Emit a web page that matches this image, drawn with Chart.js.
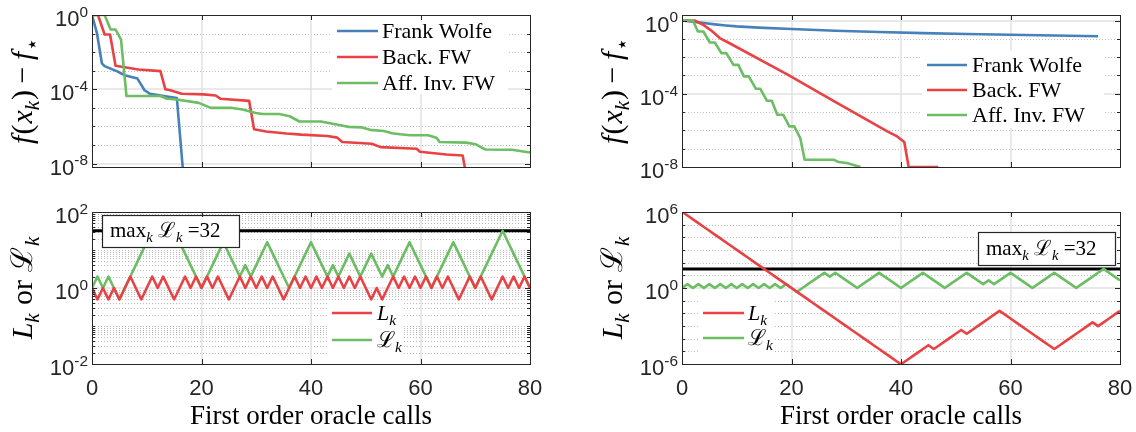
<!DOCTYPE html>
<html><head><meta charset="utf-8">
<script src="https://cdn.jsdelivr.net/npm/chart.js@4.4.1/dist/chart.umd.min.js"></script>
<style>
html,body{margin:0;padding:0;background:#fff;}
#wrap{position:relative;width:1136px;height:432px;overflow:hidden;background:#fff}
#wrap canvas{position:absolute;left:0;top:0}
</style></head>
<body><div id="wrap">
<canvas id="cTL" width="1136" height="432"></canvas>
<canvas id="cTR" width="1136" height="432"></canvas>
<canvas id="cBL" width="1136" height="432"></canvas>
<canvas id="cBR" width="1136" height="432"></canvas>
</div>
<script>
// ---------------- data ----------------
const oracleCalls = Array.from({length:81},(_,i)=>i);
const xTickVals = [0,20,40,60,80];
const topYTicks = [1e-8,1e-4,1];
const blYTicks = [1e-2,1,1e2];
const brYTicks = [1e-6,1,1e6];
const seriesNames = ['Frank Wolfe','Back. FW','Aff. Inv. FW'];

// top-left: f(x_k)-f*
const tlFwX = [0,0.9,1.8,2.3,4.5,6,8.3,9.6,10.6,13.1,15.5,16.8];
const tlFwY = [1,0.107,2.51e-3,1.78e-3,9.5e-4,5.75e-4,3.8e-4,8.9e-5,5.75e-5,4.37e-5,3.39e-5,1e-9];
const tlBackX = [0,1.1,2.3,3.3,4.3,8.5,12.5,13.4,14.3,16.4,20.4,22.6,23.5,28.7,29.6,31.8,35.5,38.2,43,44.8,45.7,51.1,52.7,59.3,59.9,64.7,67.7,68.6];
const tlBackY = [1,1,0.0891,0.0891,1.86e-3,1.17e-3,9.5e-4,1e-4,8.9e-5,5.75e-5,5.37e-5,4.68e-5,3.09e-5,2.4e-5,7.08e-7,5.37e-7,4.17e-7,3.63e-7,3.09e-7,2.51e-7,1.45e-7,1.17e-7,7.76e-8,6.31e-8,4.37e-8,3.09e-8,2.75e-8,1e-9];
const tlAffX = [0,2.3,3.4,4.3,5.3,6.3,12.5,13.7,15.5,19.5,21.7,25.6,27.5,29.9,31.2,34.2,36.1,37.9,41.8,44.2,45.4,46.9,49.3,50.8,53.3,54.8,56.3,58.1,61.4,62.9,63.5,68.3,70.1,71.9,76.7,80];
const tlAffY = [1,1,0.166,0.166,0.0468,4.37e-5,4.37e-5,3.09e-5,2.82e-5,1.86e-5,1e-5,1e-5,8.13e-6,5.37e-6,4.68e-6,4.68e-6,3.55e-6,1.86e-6,1.86e-6,1.35e-6,1.17e-6,9.55e-7,8.91e-7,6.61e-7,5.75e-7,4.37e-7,3.8e-7,3.39e-7,3.39e-7,2.51e-7,1.45e-7,1.35e-7,1.1e-7,5.75e-8,5.62e-8,3.98e-8];

// top-right
const trFwX = [0,2,4,6,8,10,14,20,28,36,44,52,60,68,76];
const trFwY = [1,0.871,0.724,0.617,0.537,0.479,0.407,0.347,0.275,0.234,0.204,0.182,0.166,0.151,0.138];
const trBackX = [0,2.3,3.9,5.4,6.9,8.7,19.3,28.3,37.5,39.3,40.6,41.4,46.8];
const trBackY = [1,1,0.575,0.275,0.11,0.0575,1.12e-3,3.16e-5,8.9e-7,4.68e-7,2.29e-7,1e-8,1e-8];
const trAffX = [0,2,2.9,3.9,5.1,6,7.2,8.1,9.4,10.3,11.3,12.2,13.5,14.3,15.5,16.4,17.4,18.5,19.6,20.5,21.6,22.4,27.7,28.6,30.1,32.6];
const trAffY = [1,1,0.251,0.251,0.0631,0.0631,0.0166,0.0166,3.8e-3,3.8e-3,8.9e-4,8.9e-4,1.86e-4,1.86e-4,4.17e-5,4.17e-5,7.08e-6,7.08e-6,1.66e-6,1.66e-6,3.8e-7,2.51e-8,2.51e-8,1.86e-8,1.66e-8,1e-8];

// bottom-left: L_k and script-L_k per oracle call
const blLk = [1,0.5,1,0.5,1,0.5,1,2,1,0.5, 1,2,1,2,1,0.5,1,2,1,2, 1,2,1,2,1,0.5,1,2,1,2, 1,2,1,2,1,0.5,1,2,1,2, 1,2,1,2,1,2,1,2,1,2, 1,0.5,1,0.5,1,2,1,2,1,2, 1,2,1,2,1,2,1,0.5,1,2, 1,2,1,0.5,1,2,1,2,1,2, 1];
const blCalLk = [1,2,1,2,1,0.5,1,2,4,8, 16,32,16,32,16,32,16,8,4,2, 1,2,4,8,16,8,4,2,4,2, 4,8,16,8,4,2,1,2,4,8, 16,8,4,2,4,2,4,8,4,2, 4,8,4,2,4,2,4,8,16,8, 4,2,1,2,4,8,16,8,4,2, 1,2,4,8,16,32,16,8,4,2, 1];

// bottom-right
const brLk = [1048576,524288,262144,131072,65536,32768,16384,8192,4096,2048,
 1024,512,256,128,64,32,16,8,4,2,
 1,0.5,0.25,0.125,0.0625,0.03125,0.015625,0.0078125,0.00390625,1.953e-3,
 9.766e-4,4.883e-4,2.441e-4,1.221e-4,6.104e-5,3.052e-5,1.526e-5,7.629e-6,3.815e-6,1.907e-6,
 9.537e-7,1.907e-6,3.815e-6,7.629e-6,1.526e-5,3.052e-5,1.526e-5,3.052e-5,6.104e-5,1.221e-4,
 2.441e-4,4.883e-4,2.441e-4,4.883e-4,9.766e-4,1.953e-3,3.906e-3,7.813e-3,0.015625,7.813e-3,
 3.906e-3,1.953e-3,9.766e-4,4.883e-4,2.441e-4,1.221e-4,6.104e-5,3.052e-5,1.526e-5,3.052e-5,
 6.104e-5,1.221e-4,2.441e-4,4.883e-4,9.766e-4,1.953e-3,9.766e-4,1.953e-3,3.906e-3,7.813e-3,
 0.015625];
const brCalLk = [1,2,1,2,1,2,1,2,1,2, 1,2,1,2,1,2,1,2,1,2, 1,0.5,1,2,4,8,16,8,16,8, 4,2,1,2,4,8,16,8,4,2, 1,2,4,8,16,8,4,2,1,2, 4,8,16,8,4,2,4,2,4,8, 16,8,4,2,1,2,4,8,16,8, 4,2,1,2,4,8,16,32,16,8, 4];

// ---------------- style ----------------
const COL = {fw:'rgb(72,129,185)', back:'rgb(232,66,69)', aff:'rgb(108,189,100)'};
const LW = 2.6;
const SERIF = '"Liberation Serif","DejaVu Serif",serif';
const SANS = '"Liberation Sans",Arial,sans-serif';
const W = 1136, H = 432;

function pts(xs, ys){ return xs.map((x,i)=>({x:x, y:ys[i]})); }
function ds(xs, ys, color, w){ return {data:pts(xs,ys), borderColor:color, borderWidth:w||LW, pointRadius:0, fill:false, tension:0}; }

// ------------- rich text helpers -------------
function fontOf(s, S, fam){ const sz=(s.sub||s.sup)?S*0.7:S; return (s.it?'italic ':'')+sz.toFixed(1)+'px '+(s.fam||fam); }
function richWidth(ctx, segs, S, fam){ let w=0; for(const s of segs){ctx.font=fontOf(s,S,fam); w+=ctx.measureText(s.t).width+(s.dx||0)*S;} return w; }
function drawRich(ctx, segs, x, y, S, fam, align){
  const w=richWidth(ctx,segs,S,fam);
  let cx = align==='center'? x-w/2 : (align==='right'? x-w : x);
  ctx.textAlign='left'; ctx.textBaseline='alphabetic';
  for(const s of segs){
    ctx.font=fontOf(s,S,fam);
    const dy = s.sub? 0.22*S : (s.sup? -0.42*S : 0);
    ctx.fillText(s.t, cx, y+dy);
    cx += ctx.measureText(s.t).width+(s.dx||0)*S;
  }
  return w;
}

const titleTop = [{t:'f',it:1,dx:0.04},{t:'(',dx:0.03},{t:'x',it:1},{t:'k',it:1,sub:1,dx:0.03},{t:')',dx:0.22},{t:'\u2212',dx:0.22},{t:'f',it:1,dx:0.02},{t:'\u22C6',sub:1}];
const titleBot = [{t:'L',it:1},{t:'k',it:1,sub:1,dx:0.28},{t:'or',dx:0.28},{t:'\u2112',dx:0.02},{t:'k',it:1,sub:1}];
const segLk = [{t:'L',it:1},{t:'k',it:1,sub:1}];
const segCal = [{t:'\u2112'},{t:'k',it:1,sub:1}];

// ------------- decoration plugin -------------
function deco(cfg){
  return {
    id:'deco',
    beforeDatasetsDraw(chart){
      const {ctx, chartArea:a, scales:{x,y}} = chart;
      ctx.save();
      ctx.strokeStyle='rgba(0,0,0,0.26)'; ctx.lineWidth=1; ctx.setLineDash([1,2]);
      for(const v of cfg.yMinor){ const py=Math.round(y.getPixelForValue(v))+0.5; ctx.beginPath(); ctx.moveTo(a.left,py); ctx.lineTo(a.right,py); ctx.stroke(); }
      ctx.setLineDash([]);
      ctx.strokeStyle='#e2e2e2'; ctx.lineWidth=1.5;
      for(const v of xTickVals){ if(v<=x.min||v>=x.max) continue; const px=Math.round(x.getPixelForValue(v)); ctx.beginPath(); ctx.moveTo(px,a.top); ctx.lineTo(px,a.bottom); ctx.stroke(); }
      for(const v of cfg.yTicks){ const py=Math.round(y.getPixelForValue(v)); if(py<=a.top+1||py>=a.bottom-1) continue; ctx.beginPath(); ctx.moveTo(a.left,py); ctx.lineTo(a.right,py); ctx.stroke(); }
      ctx.restore();
    },
    afterDatasetsDraw(chart){
      const {ctx} = chart;
      ctx.save();
      if(cfg.legend){
        const L=cfg.legend;
        ctx.fillStyle='#fff'; ctx.fillRect(L.box[0],L.box[1],L.box[2]-L.box[0],L.box[3]-L.box[1]);
        L.rows.forEach(r=>{
          ctx.strokeStyle=r.color; ctx.lineWidth=LW; ctx.beginPath(); ctx.moveTo(L.x1,r.y); ctx.lineTo(L.x2,r.y); ctx.stroke();
          ctx.fillStyle='#000'; drawRich(ctx, r.segs, L.tx, r.y+7, L.size, SERIF, 'left');
        });
      }
      if(cfg.anno){
        const A=cfg.anno;
        ctx.fillStyle='#fff'; ctx.fillRect(A.box[0],A.box[1],A.box[2]-A.box[0],A.box[3]-A.box[1]);
        ctx.strokeStyle='#262626'; ctx.lineWidth=1.2; ctx.strokeRect(A.box[0]+0.5,A.box[1]+0.5,A.box[2]-A.box[0],A.box[3]-A.box[1]);
        ctx.fillStyle='#000';
        drawRich(ctx, [{t:'max'},{t:'k',it:1,sub:1},{t:' '},{t:'\u2112'},{t:'k',it:1,sub:1},{t:' ='+A.value}], A.tx, A.ty, A.size, SERIF, 'left');
      }
      ctx.restore();
    },
    afterDraw(chart){
      const {ctx, chartArea:a, scales:{x,y}} = chart;
      ctx.save();
      ctx.strokeStyle='#262626'; ctx.lineWidth=1;
      const tick=(v,len)=>{ const py=Math.round(y.getPixelForValue(v))+0.5; ctx.beginPath(); ctx.moveTo(a.left,py); ctx.lineTo(a.left+len,py); ctx.moveTo(a.right,py); ctx.lineTo(a.right-len,py); ctx.stroke(); };
      cfg.yMinor.forEach(v=>tick(v,cfg.minorLen));
      cfg.yTicks.forEach(v=>tick(v,5));
      xTickVals.forEach(v=>{ const px=Math.round(x.getPixelForValue(v))+0.5; ctx.beginPath(); ctx.moveTo(px,a.top); ctx.lineTo(px,a.top+5); ctx.moveTo(px,a.bottom); ctx.lineTo(px,a.bottom-5); ctx.stroke(); });
      ctx.strokeRect(Math.round(a.left)+0.5, Math.round(a.top)+0.5, Math.round(a.right-a.left), Math.round(a.bottom-a.top));
      ctx.fillStyle='#262626';
      cfg.yTicks.forEach(v=>{
        const py=y.getPixelForValue(v);
        const e=Math.round(Math.log10(v));
        drawRich(ctx,[{t:'10'},{t:String(e),sup:1}], a.left-4, py+11, 22, SANS, 'right');
      });
      if(cfg.xLabels){
        ctx.textAlign='center'; ctx.textBaseline='alphabetic'; ctx.font='22px '+SANS;
        xTickVals.forEach(v=>{ ctx.fillText(String(v), x.getPixelForValue(v), a.bottom+31); });
        ctx.fillStyle='#000';
        ctx.font='27px '+SERIF; ctx.fillText('First order oracle calls', (a.left+a.right)/2, a.bottom+60);
      }
      ctx.fillStyle='#000';
      ctx.translate(a.left-70, (a.top+a.bottom)/2); ctx.rotate(-Math.PI/2);
      drawRich(ctx, cfg.title, 0, 10, 30, SERIF, 'center');
      ctx.restore();
    }
  };
}

function decades(lo,hi,skip){ const r=[]; for(let e=lo;e<=hi;e++){ const v=Math.pow(10,e); if(!skip.includes(e)) r.push(v);} return r; }
function decadesAndSubs(lo,hi,skip){ const r=[]; for(let e=lo;e<hi;e++){ for(let m=1;m<=9;m++){ if(m===1&&skip.includes(e)) continue; r.push(m*Math.pow(10,e)); } } return r; }

function make(id, area, yMin, yMax, datasets, cfg){
  return new Chart(document.getElementById(id), {
    type:'line',
    data:{datasets:datasets},
    options:{
      responsive:false, animation:false, devicePixelRatio:1,
      layout:{padding:{left:area[0], top:area[1], right:W-area[2], bottom:H-area[3]}},
      plugins:{legend:{display:false}, tooltip:{enabled:false}},
      scales:{
        x:{type:'linear', min:0, max:80, display:false},
        y:{type:'logarithmic', min:yMin, max:yMax, display:false}
      },
      elements:{line:{borderJoinStyle:'round'}}
    },
    plugins:[deco(cfg)]
  });
}

const maxBL = Math.max(...blCalLk), maxBR = Math.max(...brCalLk);

make('cTL',[92,15,530,167], Math.pow(10,-8.18), 1,
  [ds(tlAffX,tlAffY,COL.aff), ds(tlBackX,tlBackY,COL.back), ds(tlFwX,tlFwY,COL.fw)],
  {yTicks:topYTicks, yMinor:decades(-7,-1,[-4]), minorLen:3, title:titleTop,
   legend:{box:[332,17,508,94], x1:337, x2:378, tx:382, size:22, rows:[
     {y:31,color:COL.fw,segs:[{t:seriesNames[0]}]},{y:57,color:COL.back,segs:[{t:seriesNames[1]}]},{y:83,color:COL.aff,segs:[{t:seriesNames[2]}]}]}});

make('cTR',[682,15,1120,167], 1e-8, 2,
  [ds(trAffX,trAffY,COL.aff), ds(trBackX,trBackY,COL.back), ds(trFwX,trFwY,COL.fw)],
  {yTicks:topYTicks, yMinor:decades(-7,0,[-4,0]), minorLen:3, title:titleTop,
   legend:{box:[922,51,1104,128], x1:927, x2:967, tx:972, size:22, rows:[
     {y:65,color:COL.fw,segs:[{t:seriesNames[0]}]},{y:90,color:COL.back,segs:[{t:seriesNames[1]}]},{y:115,color:COL.aff,segs:[{t:seriesNames[2]}]}]}});

make('cBL',[92,212,530,364], 1e-2, 1e2,
  [ds(oracleCalls,blLk,COL.back), ds(oracleCalls,blCalLk,COL.aff), ds([0,80],[maxBL,maxBL],'#000',3)],
  {yTicks:blYTicks, yMinor:decadesAndSubs(-2,2,[-2,0]), minorLen:3, title:titleBot, xLabels:true,
   anno:{box:[102,215,239,247], tx:110, ty:237, size:21, value:maxBL},
   legend:{box:[328,302,404,354], x1:332, x2:372, tx:377, size:22, rows:[
     {y:313,color:COL.back,segs:segLk},{y:340,color:COL.aff,segs:segCal}]}});

make('cBR',[682,212,1120,364], 1e-6, 1e6,
  [ds(oracleCalls,brLk,COL.back), ds(oracleCalls,brCalLk,COL.aff), ds([0,80],[maxBR,maxBR],'#000',3)],
  {yTicks:brYTicks, yMinor:decades(-5,5,[0]), minorLen:3, title:titleBot, xLabels:true,
   anno:{box:[978,232,1115,265], tx:986, ty:255, size:21, value:maxBR},
   legend:{box:[699,300,775,352], x1:703, x2:744, tx:748, size:22, rows:[
     {y:313,color:COL.back,segs:segLk},{y:338,color:COL.aff,segs:segCal}]}});
</script>
</body></html>
